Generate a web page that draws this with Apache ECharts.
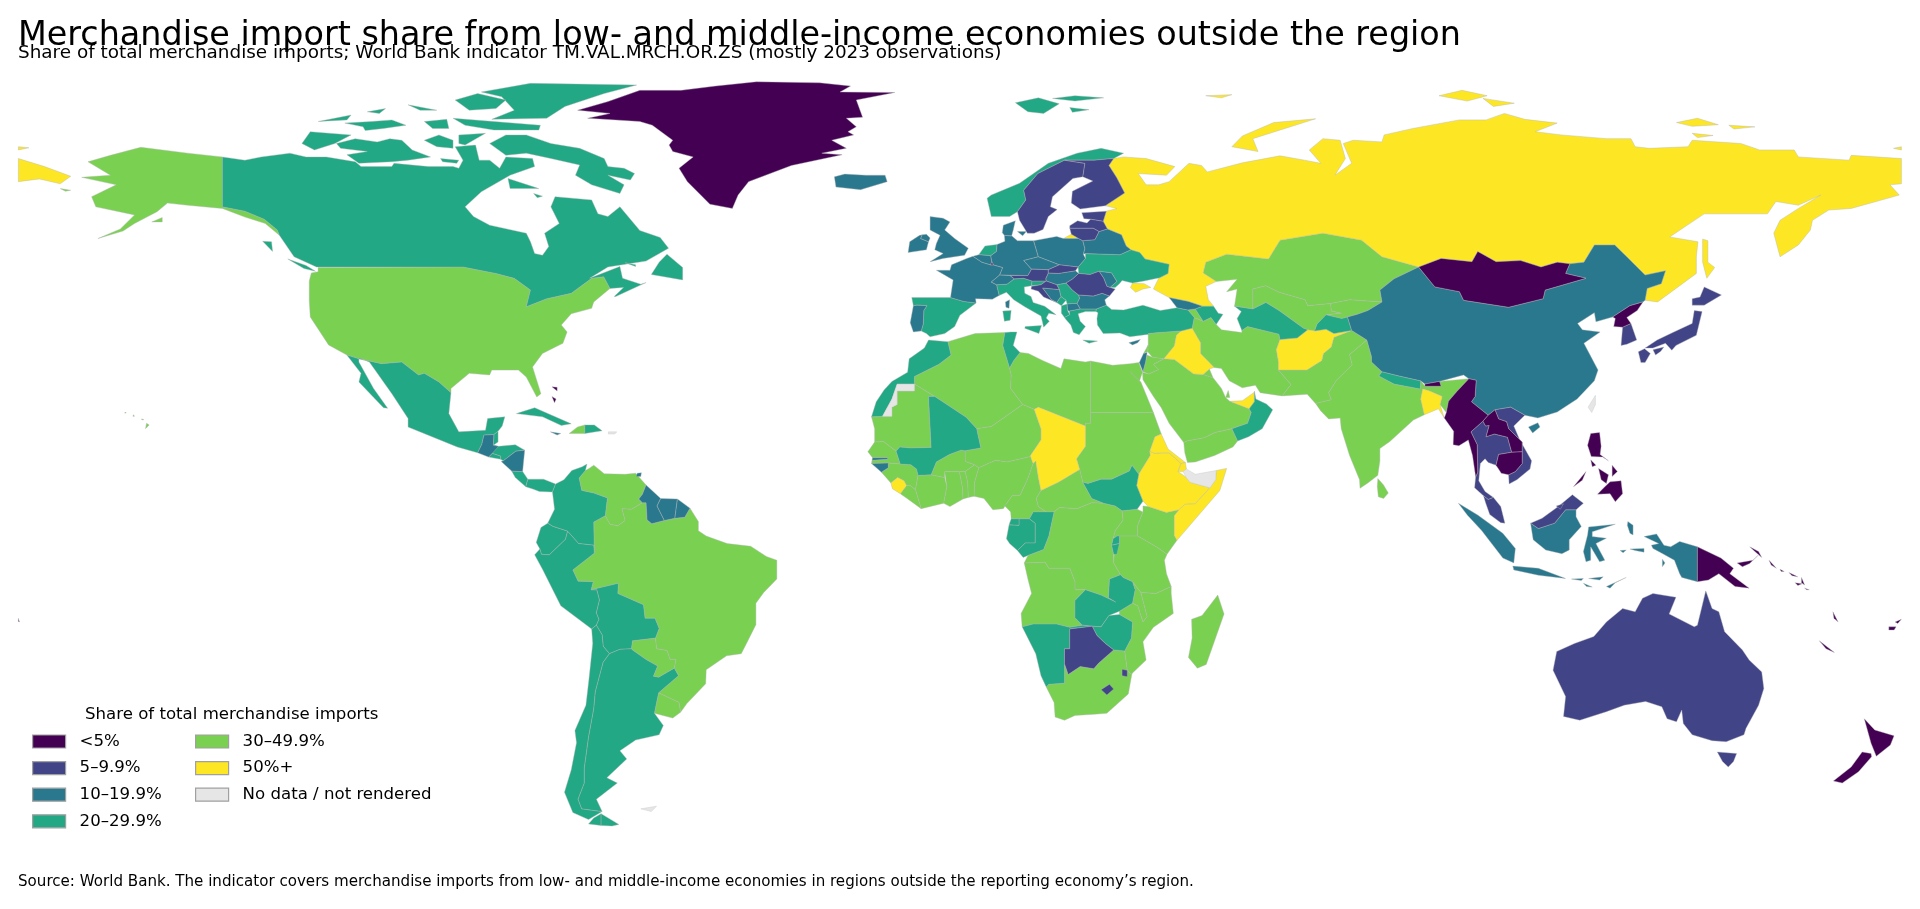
<!DOCTYPE html>
<html><head><meta charset="utf-8">
<style>html,body{margin:0;padding:0;background:#fff}#c{width:1920px;height:909px}</style>
<script src="https://cdn.jsdelivr.net/npm/echarts@6/dist/echarts.min.js"></script>
</head><body><div id="c"></div>
<script>
const titleText="Merchandise import share from low- and middle-income economies outside the region";
const subtitleText="Share of total merchandise imports; World Bank indicator TM.VAL.MRCH.OR.ZS (mostly 2023 observations)";
const legendTitle="Share of total merchandise imports";
const sourceText="Source: World Bank. The indicator covers merchandise imports from low- and middle-income economies in regions outside the reporting economy\u2019s region.";
const bandNames=["<5%","5\u20139.9%","10\u201319.9%","20\u201329.9%","30\u201349.9%","50%+","No data / not rendered"];
const bandColors=["#440154","#414487","#2a788e","#22a884","#7ad151","#fde725","#e6e6e6"];
const under5=["Greenland","Mongolia","North Korea","Bhutan","Myanmar","Laos","Cambodia","Philippines","Papua New Guinea","Solomon Islands","Vanuatu","New Caledonia","Fiji","New Zealand","Bahamas","Luxembourg"];
const from5to10=["Sweden","Finland","Estonia","Latvia","Lithuania","Austria","Slovakia","Romania","Croatia","South Korea","Japan","Thailand","Vietnam","Malaysia","Brunei","Australia","Botswana","Lesotho","Eswatini"];
const from10to20=["Iceland","Ireland","United Kingdom","France","Belgium","Germany","Denmark","Poland","Czechia","Switzerland","Hungary","Belarus","Portugal","Bosnia","Bulgaria","North Macedonia","Moldova","Georgia","Cyprus","Israel","China","Indonesia","Guatemala","Nicaragua","Jamaica","Guyana","Suriname","French Guiana","Trinidad","Gambia","Guinea-Bissau"];
const from20to30=["Canada","Mexico","Belize","El Salvador","Honduras","Costa Rica","Panama","Cuba","Dominican Republic","Colombia","Ecuador","Peru","Bolivia","Chile","Argentina","Norway","Netherlands","Spain","Italy","Slovenia","Ukraine","Serbia","Montenegro","Albania","Greece","Turkey","Azerbaijan","Morocco","Tunisia","Mali","Nepal","Turkmenistan","Tajikistan","Oman","South Sudan","Gabon","Congo","Equatorial Guinea","Rwanda","Burundi","Zambia","Zimbabwe","Namibia"];
const from30to50=["United States","Venezuela","Brazil","Paraguay","Uruguay","Haiti","Kazakhstan","Uzbekistan","Kyrgyzstan","Iran","Pakistan","India","Sri Lanka","Saudi Arabia","Syria","Jordan","Lebanon","Yemen","Kuwait","Qatar","Armenia","Algeria","Libya","Egypt","Sudan","Niger","Nigeria","Mauritania","Senegal","Guinea","Ivory Coast","Ghana","Togo","Benin","Liberia","Burkina Faso","Cameroon","Central African Republic","DR Congo","Uganda","Kenya","Tanzania","Angola","Malawi","Mozambique","South Africa","Madagascar"];
const over50=["Russia","Crimea","Chad","Ethiopia","Eritrea","Somalia","Djibouti","Iraq","Afghanistan","United Arab Emirates","Bangladesh","Sierra Leone"];
const noData=["Western Sahara","Somaliland","Taiwan","Puerto Rico","Falkland Islands"];
const bandMembers=[under5,from5to10,from10to20,from20to30,from30to50,over50,noData];

const outlines={
"Canada":[[-141,69.6,-136.7,69,-133.6,69.6,-128.1,70.3,-125,69.6,-121.1,69.6,-115.6,68.7,-114.5,67.8,-108.6,67.8,-108.2,68.4,-101.6,67.8,-96.9,67.8,-95.8,67.5,-95,69,-96.5,71.5,-92.6,71.8,-91.9,69,-89.9,69,-88,67.5,-86.8,69.6,-81.7,69.3,-81.3,67.8,-86,66.2,-91.5,63.1,-94.6,60.3,-93,58.5,-89.9,56.9,-82.9,55.4,-82.1,53.8,-81.3,51.6,-79.8,51.3,-78.6,52.9,-79.4,55.4,-76.6,57.2,-78.2,60.3,-77.4,62.2,-70.4,61.6,-69.2,59,-67.3,58.5,-65,60.3,-61.2,55.9,-57.3,54.6,-55.7,52.6,-60,50.2,-67.3,49.1,-70.8,47,-65,49.2,-64.5,47,-61,45.9,-60,46.2,-65.8,43.6,-66.1,43.6,-64.3,45.3,-66.9,45.1,-68.1,47.3,-70.4,47,-74.3,44.2,-79,43.2,-82.9,41.7,-82.1,44.8,-85.2,47,-88.7,47.9,-95,49.1,-123,49.1,-127.3,51,-130.1,55,-130.5,56,-133,58,-136.7,59.5,-141,60.3],
[-125.8,72.1,-124.2,74.3,-116.4,73.7,-119.5,72.1,-123.4,70.9],[-119.2,72.1,-115.6,73,-111.4,72.4,-109,73,-106.7,72.7,-104.7,70.9,-101.2,69.6,-105.5,69,-108.6,68.7,-114.9,68.4,-117.2,70,-113.3,70.6,-118.4,71.2],[-122.7,76.2,-116.4,77.4,-117.2,76.5],[-113.3,78,-109.8,78.6,-111,77.7],[-117.6,75.9,-112.5,76.2,-108.6,76.5,-105.9,75.5,-110.2,74.9,-113.7,74.5,-114.1,75.2],[-105.5,79.3,-100,78.3,-103.2,78.3],[-102.4,76.2,-98.1,76.6,-97.7,74.9,-100.8,74.9],[-96.9,76.8,-89.1,76.2,-80.2,75.5,-80.5,74.6,-89.1,74.6,-94.6,75.5],[-102.4,72.7,-99.6,73.7,-96.9,72.7,-96.9,71.2,-100,71.5],[-95.8,73.7,-90.7,74,-94.6,71.8,-95.8,72.1],[-99.3,69.3,-95.8,69,-96.2,68.4,-98.9,68.7],[-96.5,80.2,-92.2,81.4,-86.8,80.2,-88.7,78.6,-93.8,78.3],[-91.5,81.7,-82.1,83.3,-61.8,83,-68,81.4,-75.5,79,-79,76.8,-89.5,76.6,-85.2,78.3,-87.6,80.8],[-89.9,72.1,-86.8,73.7,-82.9,73.7,-78.2,72.1,-72.7,71.2,-68,69.3,-67.3,67.8,-64.2,67.5,-62.2,66.5,-63,65.3,-67.3,66.2,-64.2,64.4,-65,62.8,-70.4,64.4,-73.5,66.2,-72.7,68.1,-78.2,69.3,-82.9,70.3,-86.8,69.9],[-86.4,65.6,-86,63.7,-80.5,63.7,-83.6,64.7],[-59,47.7,-53,46.7,-53,49,-56,51.5,-57.5,50],[-128.5,50.6,-125,49.4,-123.2,48.3,-125.4,48.8],[-133.3,53.9,-131.6,53.8,-131.4,52],[-64,49.9,-62,49.5,-62,49.2],[-81.5,62.8,-79.8,62.3,-80.8,62]],
"United States":[[-122.7,49,-95,49.1,-88.7,47.9,-85.2,47,-82.1,44.8,-82.9,41.7,-79,43.2,-74.3,44.2,-70.4,47,-68.1,47.3,-66.9,45.1,-70,42.6,-70.4,41.4,-74.3,40.4,-76.2,38.3,-75.1,37,-75.9,34.9,-79.8,33,-81.7,30.5,-80.1,25.5,-80.9,24.9,-82.9,28.6,-84.4,29.9,-89.5,29.9,-89.9,29,-93.8,29.3,-97.3,26.5,-97.3,25.7,-99.6,27.7,-102.4,29.3,-103.5,29,-106.7,31.4,-110.6,31.1,-114.9,32,-117.2,32.7,-120.7,34.6,-124.2,39.8,-124.4,42.9,-124.4,46.5,-124,48,-122.7,48.2],
[-141,60.3,-141,69.6,-147.6,70.3,-156.6,71.4,-162.4,69.9,-166.7,68.7,-162.4,66.2,-167.9,65.8,-161.3,64.4,-166,62.2,-165.2,60.3,-157.8,58.8,-160.5,56.2,-164.8,54.4,-160,55.8,-157.8,57.2,-153.5,59.4,-151.5,61,-147.6,60.6,-141,60,-136.7,58.4,-132.8,57.2,-130.1,55,-130.5,56,-133,58,-136.7,59.5],[-154.5,57.5,-152.5,58.3,-152.5,57.5],[-155.5,20,-155,19.7,-155.7,19],[-156.5,20.8,-156,20.7,-156.3,20.6],[-158,21.6,-157.8,21.3,-158.1,21.3],[-159.5,22.1,-159.4,21.9,-159.7,21.9],[-172,63.7,-170,63.4,-171,63.2]],
"Mexico":[[-117.2,32.7,-114.9,32,-110.6,31.1,-106.7,31.4,-103.5,29,-102.4,29.3,-99.6,27.7,-97.3,25.7,-97.7,21.8,-95.8,18.4,-90.7,18.7,-90.3,20.9,-87,21.2,-87.5,19.5,-88.3,18.5,-89.1,17.9,-91,17.8,-91.4,16.1,-92.2,14.5,-96.1,15.6,-105.5,19.3,-105.5,20.9,-108.6,25.5,-112.9,31.4,-114.9,32.2,-114.9,31.4,-112.1,26.5,-109.4,22.8,-110.2,22.9,-114.9,27.7,-114.5,29.3]],
"Guatemala":[[-92.2,14.5,-91.4,16.1,-91,17.8,-89.1,17.9,-89.2,15.9,-88.2,15.7,-89.4,14.4,-90.1,13.7]],
"Belize":[[-89.1,17.9,-88.3,18.5,-88.3,16.5,-89.2,15.9]],
"El Salvador":[[-90.1,13.7,-89.4,14.4,-87.8,13.9,-87.8,13.3]],
"Honduras":[[-89.2,15.9,-88.2,15.7,-85,16,-83.2,15,-84.9,14.8,-87.3,13,-87.8,13.3,-87.8,13.9,-89.4,14.4]],
"Nicaragua":[[-83.2,15,-83.6,11,-85.7,11.1,-87.7,12.9,-87.3,13,-84.9,14.8]],
"Costa Rica":[[-85.7,11.1,-83.6,11,-82.6,9.6,-83,8.2,-85,9.9]],
"Panama":[[-82.6,9.6,-79.6,9.6,-77.3,8.7,-77.9,7.2,-80.4,7.3,-81.5,7.7,-83,8.2]],
"Cuba":[[-84.8,21.8,-81.3,22.9,-74.3,19.9,-76.2,19.6,-79.8,21.2]],
"Jamaica":[[-78.3,18.4,-76.3,18.1,-77,17.8]],
"Haiti":[[-74.7,18.1,-73.1,19.3,-71.7,19.7,-71.7,18.1]],
"Dominican Republic":[[-71.7,19.7,-69.9,19.7,-68.4,18.6,-71.7,18.1]],
"Puerto Rico":[[-67.2,18.4,-65.6,18.4,-66,18,-67.2,18]],
"Bahamas":[[-78,26.8,-77,26.7,-77,26],[-78,25,-77.5,23.8,-77.2,24.5]],
"Trinidad":[[-61.7,10.7,-60.9,10.8,-61,10.1,-61.9,10.1]],
"Colombia":[[-77.3,8.7,-75.7,9.5,-74.2,11.2,-72.2,11.9,-71.3,12.4,-71.6,11.2,-72.8,9.8,-72.3,7.5,-70,7,-67.4,6.1,-67.8,2.8,-70,1.6,-69.9,-4.2,-70,-2.7,-72.9,-2.4,-75,-0.1,-77.8,0.8,-78.8,1.4,-77.5,4,-77.9,7.2]],
"Venezuela":[[-71.6,11.2,-70.9,11.6,-70,12.2,-68,10.6,-64,10.5,-62,10.7,-60,8.5,-60.7,6.8,-61.4,5.9,-60.7,5.2,-62.8,4,-64.6,4.1,-64,1.9,-65.4,0.9,-66.9,1.2,-67.8,2.8,-67.4,6.1,-70,7,-72.3,7.5,-72.8,9.8]],
"Guyana":[[-60,8.5,-57.2,6,-57.9,4.6,-56.5,1.9,-58.9,1.3,-59.8,2,-60,5.2,-60.7,5.2,-61.4,5.9,-60.7,6.8]],
"Suriname":[[-57.2,6,-54,5.9,-54.5,2.3,-56.5,1.9,-57.9,4.6]],
"French Guiana":[[-54,5.9,-51.6,4.2,-52.6,2.5,-54.5,2.3]],
"Brazil":[[-60.7,5.2,-60,5.2,-59.8,2,-58.9,1.3,-56.5,1.9,-54.5,2.3,-52.6,2.5,-51.6,4.2,-50,1.7,-50,0,-48.5,-1,-44.5,-2.4,-40,-2.9,-37,-4.8,-35,-5.5,-35,-9,-37.5,-11.5,-39,-13.5,-39,-17.5,-40.8,-21,-41.8,-22.9,-44.6,-23.3,-48.5,-25.9,-48.6,-28.5,-52.2,-32.2,-53.4,-33.8,-53.7,-32,-57.6,-30.2,-53.8,-27,-54.6,-25.6,-54.3,-24,-55.4,-24,-56,-22.3,-58,-22,-58.2,-20,-57.5,-18.2,-58.3,-16.3,-60.2,-16.3,-60.5,-13.8,-65.4,-11.7,-65.3,-9.8,-70.5,-11,-70.1,-9.5,-73,-9.4,-74,-7.3,-69.9,-4.2,-70,1.6,-67.8,2.8,-66.9,1.2,-65.4,0.9,-64,1.9,-64.6,4.1,-62.8,4]],
"Ecuador":[[-75,-0.1,-77.8,0.8,-78.8,1.4,-80.1,0.6,-81,-2.2,-80.3,-3.4,-80,-4.4,-78.5,-4.5,-75.4,-1.6]],
"Peru":[[-75,-0.1,-75.4,-1.6,-78.5,-4.5,-80,-4.4,-80.3,-3.4,-81.3,-4.5,-79.8,-7.2,-76.3,-14,-70.4,-18.3,-69.5,-17.6,-69,-16.5,-69.5,-15.3,-68.9,-12.9,-69.4,-11,-70.5,-11,-70.1,-9.5,-73,-9.4,-74,-7.3,-69.9,-4.2,-70,-2.7,-72.9,-2.4]],
"Bolivia":[[-69.4,-11,-68.9,-12.9,-69.5,-15.3,-69,-16.5,-69.5,-17.6,-68.4,-19.4,-68.2,-21.5,-67,-22.9,-65,-22.1,-62.8,-22,-62.6,-20.5,-58.2,-20,-57.5,-18.2,-58.3,-16.3,-60.2,-16.3,-60.5,-13.8,-65.4,-11.7,-65.3,-9.8,-70.5,-11]],
"Chile":[[-70.4,-18.3,-69.5,-17.6,-68.4,-19.4,-68.2,-21.5,-67,-22.9,-68.2,-24.5,-69.7,-30,-70,-33.2,-71,-38.5,-71.8,-44.2,-71.8,-47,-73,-50,-72.3,-51.8,-68.4,-52.3,-71,-53.8,-74,-52.5,-75.6,-48.7,-74.3,-44.5,-73.3,-39.5,-73.6,-37.2,-71.5,-32.5,-70.9,-27.5,-70.2,-21],[-68.6,-52.7,-68.6,-54.9,-71,-54.6,-70,-53.5]],
"Argentina":[[-65,-22.1,-67,-22.9,-68.2,-24.5,-69.7,-30,-70,-33.2,-71,-38.5,-71.8,-44.2,-71.8,-47,-73,-50,-72.3,-51.8,-68.4,-52.3,-69.5,-50,-65.5,-47,-67.5,-46,-63.7,-42.5,-65,-41,-62,-39,-57.5,-38,-56.7,-36.3,-58.4,-34,-58.1,-32.5,-57.6,-30.2,-53.8,-27,-54.6,-25.6,-57.6,-27.3,-58.6,-27.1,-57.8,-25.2,-60,-24,-62.6,-22.2,-62.8,-22],[-68.6,-52.7,-65.2,-54.7,-66.5,-55,-68.6,-54.9]],
"Paraguay":[[-62.8,-22,-62.6,-20.5,-58.2,-20,-58,-22,-56,-22.3,-55.4,-24,-54.3,-24,-54.6,-25.6,-57.6,-27.3,-58.6,-27.1,-57.8,-25.2,-60,-24,-62.6,-22.2]],
"Uruguay":[[-57.6,-30.2,-53.7,-32,-53.4,-33.8,-54.9,-34.9,-58.4,-34,-58.1,-32.5]],
"Falkland Islands":[[-61,-51.8,-58,-51.3,-59,-52.3]],
"Greenland":[[-73.1,78.3,-67.3,79.9,-61.2,82,-53.3,82,-46.7,82.8,-38.9,83.6,-26.8,83.4,-20.9,82.8,-22.9,81.7,-12.4,81.6,-19.8,80.2,-18.6,77,-21.7,76.8,-19.8,75.2,-21.4,74.3,-20.3,73.7,-24.5,72.7,-21.7,71.2,-26.4,70.3,-22.5,70,-32.2,68,-40.4,65,-42.4,62.5,-43.5,60,-47.8,60.8,-52.1,65,-53.7,67.5,-51,69.6,-54.9,70.6,-55.6,71.8,-54.9,72.7,-58.8,75.5,-61.2,76.2,-71.2,76.8,-66.9,77.7]],
"Iceland":[[-24,65.9,-22,66.4,-18,66.2,-14.3,66.2,-13.9,65,-19,63.5,-23.7,64]],
"Ireland":[[-6,53.8,-6.4,52.3,-9.9,51.8,-9.6,53.8,-7.7,55,-7.2,55.1,-7.5,54.4]],
"United Kingdom":[[-5.7,58.5,-3.2,58.2,-1.9,57.5,-2.9,56,-1,54.4,1.6,52.6,.9,51.3,-3.2,50.7,-5.7,50.1,-3.2,51.6,-4.8,52.3,-4.5,53.5,-3.8,55,-5.7,56],[-6,53.8,-5.7,54.5,-6.4,55.2,-7.2,55.1,-7.5,54.4]],
"France":[[-1.8,43.4,-1.3,46.7,-4.5,48.5,-1.9,48.5,-1.6,49.5,1.3,50.7,2.5,51.1,4.2,50,5.9,49.5,6.4,49.5,8.2,49,7.6,47.6,6,46.3,7,45.8,7.5,43.8,6.2,43.1,3,43.2,3.1,42.4,0.7,42.7],[8.7,42.6,9.5,43,9.4,41.4,8.8,41.6]],
"Spain":[[-9.2,43.4,-1.8,43.4,0.7,42.7,3.1,42.4,0,40.1,-1,38,-2.9,36.7,-5.7,36.1,-6.4,36.7,-7.4,37.2,-7,38.5,-6.9,41,-6.3,41.9,-8.2,42,-8.9,41.9]],
"Portugal":[[-8.9,41.9,-8.2,42,-6.3,41.9,-6.9,41,-7,38.5,-7.4,37.2,-8.9,37,-9.5,38.7]],
"Belgium":[[2.5,51.1,3.6,51.4,5.9,51.2,6.1,50.1,5.9,49.5,4.2,50]],
"Netherlands":[[3.6,51.4,4.8,53,7.1,53.3,7,52,5.9,51.2]],
"Luxembourg":[[5.9,49.5,6.1,50.1,6.4,49.5]],
"Germany":[[7.1,53.3,8.6,53.9,8.5,55,9.9,54.9,11,54,14.1,54,14.7,52,15,51,12.2,50.3,13.7,48.7,13,47.5,7.6,47.6,8.2,49,6.4,49.5,6.1,50.1,5.9,51.2,7,52]],
"Switzerland":[[7.6,47.6,9.6,47.5,10.4,46.9,9,45.9,7,45.8,6,46.3]],
"Austria":[[9.6,47.5,13,47.5,13.7,48.7,16.9,48.6,16.9,48,16.4,46.9,16.5,46.5,13.8,46.5,12.2,47,10.4,46.9]],
"Italy":[[7,45.8,9,45.9,10.4,46.9,12.2,47,13.8,46.5,13.7,45.6,12.3,45.4,12.4,44.2,13.6,43.6,14,42.5,16.2,41.8,18.4,40.2,17,40.5,16.5,39.6,17.1,39,16,37.9,15.8,38.8,15.5,40,12.4,41.7,10.3,43,8.9,44.4,7.5,43.8],[12.5,38,15.6,38.2,15.1,36.7,12.4,37.7],[8.2,40.9,9.8,41,9.6,39.2,8.5,39]],
"Denmark":[[8.1,55.5,8.3,56.9,10.6,57.7,10.2,56,9.9,54.9,8.5,55],[11,55.7,12.7,55.7,12,54.9]],
"Norway":[[5.2,61.9,6,62.5,11.4,64.7,16.9,68.4,22.4,70.3,27,71.2,31.3,70.3,29.4,69.3,28.2,69.2,25.7,69,20,69,14.9,66.5,12.2,63.4,12.6,61.6,11,59.4,9.5,58.5,6,58.5],[10.6,79.7,15,80.6,19,79.5,16,77.7,13,78],[17.7,80.5,22,81,27.5,80.6,22,80],[21,78.8,24.7,78.4,21.5,77.9]],
"Sweden":[[11,59.4,12.6,61.6,12.2,63.4,14.9,66.5,20,69,23.9,68.4,23.5,65.9,21.6,65.6,17.7,62.2,17.3,60.3,18.6,59.8,16.9,58.5,15.9,56.1,14.2,55.4,12.9,55.4,11.4,57.8]],
"Finland":[[20,69,25.7,69,28.2,69.2,29.4,69.3,28.5,68,30,65.7,31.5,62.9,27.8,60.5,23,59.9,21.3,61,21.5,63.2,25.4,65.1,23.5,65.9,23.9,68.4]],
"Estonia":[[23.3,59.2,28,59.5,27.4,57.6,25,58,23.7,58.1]],
"Latvia":[[21,56.8,22.5,57.7,24.3,57.3,25,58,27.4,57.6,28.2,56.2,26.6,55.7,25.5,56.3,21,56.3]],
"Lithuania":[[21,56.3,25.5,56.3,26.6,55.7,25.8,54.2,23.5,54,22.7,54.4,21.3,55.2]],
"Poland":[[14.1,54,18.5,54.8,19.8,54.4,22.7,54.4,23.5,54,23.9,52.5,23.6,51.5,24,50.7,22.6,49.1,19,49.5,15,51,14.7,52]],
"Belarus":[[23.5,54,25.8,54.2,26.6,55.7,28.2,56.2,30.9,55.1,31.8,53,32.7,52.3,30.6,51.4,24,51.6,23.6,51.5,23.9,52.5]],
"Ukraine":[[24,51.6,30.6,51.4,32.7,52.3,34.4,51.8,35.4,50.6,40,49.6,39.8,47.9,38.2,47.1,35.2,46.5,33,46.1,31,46.6,30.5,46,29.7,45.3,28.7,45.3,30,46.4,29,48,26.6,48.3,24.9,47.7,22.7,47.9,22.6,49.1,24,50.7]],
"Crimea":[[33,46.1,35.2,46,36.5,45.3,35,45,33.6,44.4,32.6,45.3]],
"Moldova":[[26.6,48.3,29,48,30,46.4,28.7,45.3,28.1,45.5,27.5,47]],
"Romania":[[22.7,47.9,24.9,47.7,26.6,48.3,27.5,47,28.1,45.5,28.7,45.3,29.7,45,28.6,43.7,27.2,44.2,25.5,43.7,22.7,43.9,21.5,44.8,20.3,46.1,21.6,46.9]],
"Hungary":[[16.4,46.9,16.9,48,18.8,47.9,22.1,48.4,22.7,47.9,21.6,46.9,20.3,46.1,18.5,45.8,16.5,46.5]],
"Slovakia":[[16.9,48.6,19,49.5,22.6,49.1,22.1,48.4,18.8,47.9,16.9,48]],
"Czechia":[[12.2,50.3,15,51,19,49.5,16.9,48.6,13.7,48.7]],
"Slovenia":[[13.7,45.6,13.8,46.5,16.5,46.5,15.5,45.8]],
"Croatia":[[13.7,45.5,13.6,45,15,44.6,16,43.5,18.5,42.5,17.5,43,15.8,45.2,19,44.9,18.5,45.8,16.5,46.5,15.5,45.8]],
"Bosnia":[[15.8,45.2,19,44.9,19.3,43.6,18.5,42.5,17.5,43]],
"Serbia":[[18.5,45.8,19,44.9,19.3,43.6,20.3,42.9,20.5,42.2,21.5,42.3,22.4,42.3,22.9,43.3,22.7,43.9,21.5,44.8,20.3,46.1]],
"Montenegro":[[18.5,42.5,19.3,43.6,20.3,42.9,19.4,41.9]],
"Albania":[[19.4,41.9,20.5,42.2,20.6,41,21,40.2,20,39.7,19.4,40.5]],
"North Macedonia":[[20.5,42.2,21.5,42.3,22.4,42.3,23,41.3,20.9,40.9,20.6,41]],
"Bulgaria":[[22.7,43.9,22.9,43.3,22.4,42.3,23,41.3,26.1,41.3,28,42,27.7,43,28.6,43.7,27.2,44.2,25.5,43.7]],
"Greece":[[20,39.7,21,40.2,20.9,40.9,23,41.3,26.1,41.3,26,40.8,24,40.8,22.6,40.4,23,39,24,38,22.8,36.5,21.7,36.9,21.2,38.3,20.2,39.4],[23.5,35.5,26.3,35.3,24.7,34.9]],
"Turkey":[[26.1,41.3,28,42,29,41.2,31.3,41.1,35,42,38.3,41,41.5,41.5,43.6,41.1,44.8,39.7,44.4,37.7,42.3,37.2,38,36.9,36,36.7,36.2,36.6,32.5,36.1,30.6,36.8,27.4,36.7,26.3,38.3,26.2,39.5,26.4,40.6,26,40.8]],
"Cyprus":[[32.3,35,34.5,35.6,34,35,33,34.6]],
"Georgia":[[40,43.4,43.7,42.7,46.4,41.8,45,41.3,43.6,41.1,41.5,41.5]],
"Armenia":[[43.6,41.1,45,41.3,46.5,39,44.8,39.7]],
"Azerbaijan":[[45,41.3,46.4,41.8,48.5,41.8,49.4,40.5,50.3,40.3,49,38.4,48,39.7,46.5,39]],
"Russia":[[28,59.5,30,60,27.8,60.5,31.5,62.9,30,65.7,28.5,68,29.4,69.3,31.3,69.6,35.6,69.3,41.1,67.8,39.5,66.2,34.1,66.5,35.6,64.4,38,64.4,40,65,43.8,68.4,46.2,68,47.3,66.8,54,68.5,61.2,69.8,65.9,69,69,68.4,66.8,70.9,69.4,73,72.7,72.7,73.7,69.3,71.7,66.2,74.9,68.4,73.3,72.1,75.2,72.7,80.7,72.4,81.1,73.7,86.6,74.9,95.5,76.5,100.6,76.5,104.1,77.7,108,76.6,114.2,75.9,110,74.3,115,73.7,123.6,73,128.3,73,129.1,71.5,131.8,71.2,139.2,71.5,140,72.7,149.3,72.1,152.9,70.9,159.5,70.9,160.3,69.6,170,69,170.4,69.9,180,69.3,180,64.6,177.8,64.4,179.6,62.5,170.4,60,166.1,59.7,163,57.8,162.6,56,160.3,53.2,156.8,51,155.6,55.4,156.8,57.8,160.3,60,164.6,62.5,160.3,60.6,156,61.3,154.4,59,142.3,59,135.7,54.7,141.1,53.8,140.8,51,140.8,47.9,133.4,42.6,131,42.9,131.4,45.1,134.1,46,134.9,48.4,131,47.6,127.5,51,125.2,53.2,121.3,53.2,119.3,50,116.6,49.7,114.2,50,111.1,49.1,107.2,50.3,102.5,50.1,99,52,97.9,50.1,92,50.7,87.7,49.1,80.7,51,76.8,54.1,69.4,55.4,61.2,54.1,59,50.6,51,51.5,47,50,46.5,48,49,46.4,47,45.5,47.5,43,48.5,41.8,46.4,41.8,43.7,42.7,40,43.4,37,45,38,47,39.8,47.9,40,49.6,35.4,50.6,34.4,51.8,32.7,52.3,31.8,53,30.9,55.1,28.2,56.2,27.4,57.6],
[-180,69.3,-175,67.8,-170,66,-172,64.6,-176,65.5,-180,65],[-180,71.5,-178,71.3,-180,70.9],[178.5,71.2,180,71.5,180,70.9],[19.8,54.4,22.7,54.4,21.3,55.2],[52,71.5,57,70.6,56,73,68,76.7,60,76,54,73.5],[91.6,81,96,82,100.8,81,97,80],[100,80.5,106,79.6,102,79],[137,76,141,76.8,145,75.6,140,75.3],[147,75.5,152,75.2,148,74.8],[140,74,144,73.6,141,73.2],[142,54.3,143,54,143,50,144.3,49,142.8,47,142,50],[47,81,52,81.2,50,80.6]],
"Kazakhstan":[[46.5,48,47,50,51,51.5,59,50.6,61.2,54.1,69.4,55.4,76.8,54.1,80.7,51,87.7,49.1,83,46.9,80.3,44.8,80.7,42.6,74.5,43,70.9,42.3,66.5,41.9,66,43,61,44.4,58.5,45.6,56,45,56,41.3,52.5,41.8,53,45,51,44.5,53,46.8,49,46.4]],
"Uzbekistan":[[56,41.3,56,45,58.5,45.6,61,44.4,66,43,66.5,41.9,70.9,42.3,71,40.9,73,40.5,70,40.2,68.3,38.5,67.8,37.2,66.5,37.4,65.7,37.7,61,41,58.5,42.5]],
"Turkmenistan":[[52.5,41.8,56,41.3,58.5,42.5,61,41,65.7,37.7,66.5,37.4,64.5,35.9,61.2,35.6,61,36.6,55,38,53.9,37.3,53,39.5,53.8,40.8]],
"Kyrgyzstan":[[70.9,42.3,74.5,43,80.7,42.6,78,41,76,40.3,74.1,39.8,73,39.5,70,40.2,73,40.5,71,40.9]],
"Tajikistan":[[67.8,37.2,68.3,38.5,70,40.2,73,39.5,74.1,39.8,74.9,37.3,71.5,36.7,70,37.5]],
"Afghanistan":[[61.2,35.6,64.5,35.9,66.5,37.4,67.8,37.2,70,37.5,71.5,36.7,74.9,37.3,71.5,36,71,34.2,69.5,33,69.2,31.7,66.3,29.9,60.9,29.9,60.9,31.5,60.5,33.7]],
"Pakistan":[[60.9,29.9,66.3,29.9,69.2,31.7,69.5,33,71,34.2,71.5,36,74.9,37.3,77.8,35.5,74.5,32.8,75,30.9,72,28,70.5,25.7,71,24.4,68,23.7,66.4,25.4,61.6,25.1,63.3,27.2]],
"Iran":[[44.8,39.7,46.5,39,48,39.7,49,38.4,50,37.4,53.9,36.9,53.9,37.3,55,38,61,36.6,61.2,35.6,60.5,33.7,60.9,31.5,60.9,29.9,63.3,27.2,61.6,25.1,57.4,25.7,56.5,27.1,54,26.6,51.5,27.9,50,30.2,48.6,30.4,46,33,46,35,44.4,37.7]],
"Iraq":[[42.3,37.2,44.4,37.7,46,35,46,33,48.6,30.4,47.7,30.1,46.5,29.1,44.7,29.2,41,31.9,39,32,41,34.4,41.4,36.4]],
"Syria":[[36,36.7,38,36.9,42.3,37.2,41.4,36.4,41,34.4,39,32,36.8,32.3,35.9,33.3,36,34.6]],
"Lebanon":[[35.1,33,35.9,33.3,36,34.6,35.9,34.5]],
"Israel":[[34.3,31.3,35.1,33,35.8,33.2,35.5,31.4,35,29.6]],
"Jordan":[[35,29.6,35.5,31.4,35.8,32.7,36.8,32.3,39,32,37,31,38,30,36.1,29.2]],
"Saudi Arabia":[[36.1,29.2,38,30,37,31,39,32,41,31.9,44.7,29.2,46.5,29.1,48.4,28.5,50,26.5,50.8,24.8,51.6,24.1,55.3,22.7,55.7,22,55,20,52,19,48.8,18.3,46.7,17.3,43.4,16.7,42.8,16.4,40,20,38.5,22.9,37,25,35,28.1,34.9,29.5]],
"Yemen":[[42.8,16.4,43.4,16.7,46.7,17.3,48.8,18.3,52,19,53.1,16.7,52.2,15.6,48.7,14,45,12.8,43.5,12.7,43,14.5]],
"Oman":[[55,20,55.7,22,55.3,22.7,56.3,24,56.3,26,56.6,24.5,58.6,23.6,59.8,22.5,57.8,19,55.2,17.5,53.1,16.7,52,19]],
"United Arab Emirates":[[51.6,24.1,54,24.2,56.3,25.8,56.3,24,55.3,22.7]],
"Qatar":[[50.8,24.8,51.3,26.1,51.6,24.8]],
"Kuwait":[[46.5,29.1,47.7,30.1,48.4,28.5]],
"India":[[68,23.7,71,24.4,70.5,25.7,72,28,75,30.9,74.5,32.8,77.8,35.5,78.7,32.4,78.7,31.4,80.7,29.6,80.1,28.8,83,27.3,88,26.4,88.1,27.9,88.9,26.9,92,26.9,91.7,27.8,97.3,28.3,95,25.9,93.4,24.1,93,22,91.8,23.5,92.2,25,89.8,26,88.5,26.4,88.1,24.5,88.8,21.6,86.7,20.6,82.2,16.6,80.3,15.3,80.3,13,79.9,10.3,78,8.9,76.5,7.9,76.4,9.5,74.5,14,72.9,19,72.7,21,70.5,20.8,69,22.3]],
"Bangladesh":[[88.1,24.5,88.5,26.4,89.8,26,92.2,25,91.8,23.5,92.6,21,91.5,22.7,88.8,21.6]],
"Nepal":[[80.1,28.8,80.7,29.6,84,28.8,88.1,27.9,88,26.4,83,27.3]],
"Bhutan":[[88.9,27.3,91.7,27.8,92,26.9,88.9,26.9]],
"Sri Lanka":[[79.9,9.7,81,8.5,81.9,7,81,6,80,6.3,79.8,8.2]],
"Myanmar":[[92.6,21,93,22,93.4,24.1,95,25.9,97.3,28.3,98.7,28,98.5,25,97.8,24,101,21.5,100,20.4,97.7,18.4,98.9,16,99,10.9,98.6,10,98,14,97.2,16.9,95.4,15.8,94.3,16,94.4,18.5]],
"China":[[74.1,39.8,76,40.3,78,41,80.7,42.6,80.3,44.8,83,46.9,87.7,49.1,90.8,45.4,95.5,44.5,96.3,42.9,104.9,41.6,111.5,43.2,111.9,44.8,119.7,47,115.8,47.9,116.6,49.7,119.3,50,121.3,53.2,125.2,53.2,127.5,51,131,47.6,134.9,48.4,134.1,46,131.4,45.1,131,42.9,130.6,42.6,128.1,41.9,124.8,39.8,121.6,38.9,121.3,40.6,118.1,38.6,119,37.4,122.4,37,119.3,34.9,122,29.9,121.3,27.9,118,24.5,114.2,22.1,110.5,21,108,21.5,105.3,23,102.3,22.5,101,21.5,97.8,24,98.5,25,98.7,28,97.3,28.3,96.3,29,91.7,27.8,88.9,27.3,88.1,27.9,84,28.8,80.7,29.6,78.7,31.4,78.7,32.4,77.8,35.5,74.9,37.3],[108.7,19.3,110.5,20.1,110.9,19.3,109.5,18.2]],
"Mongolia":[[87.7,49.1,92,50.7,97.9,50.1,99,52,102.5,50.1,107.2,50.3,111.1,49.1,114.2,50,116.6,49.7,115.8,47.9,119.7,47,111.9,44.8,111.5,43.2,104.9,41.6,96.3,42.9,95.5,44.5,90.8,45.4]],
"Taiwan":[[121.5,25.2,120.1,23,120.8,22,121.5,23.5]],
"North Korea":[[124.8,39.8,128.1,41.9,130.6,42.6,129.5,41,127.5,39.7,128.3,38.6,126.7,37.9,125,38,125.3,39.5]],
"South Korea":[[126.7,37.9,128.3,38.6,129.4,35.5,127.5,34.7,126.4,34.5,126.6,36.7]],
"Japan":[[140.4,41,141.9,40.8,140.8,36.4,136.9,34.5,136.1,33.6,134.9,34.9,132.5,34,131,34,133.3,35.5,136.5,37,140,38.6],[142.3,45.4,145.6,43.9,142.3,42,140,42,140,43.2,141.5,43.5],[130.9,33.9,132,33,131,31.3,130.2,31.3,129.7,33.3],[132.5,33.7,134.6,34.2,134,33.4,133,32.7]],
"Thailand":[[100,20.4,100.5,19.5,101.2,19.6,100.6,17.5,102.2,18,104.7,17.4,105.5,14.6,103,14.2,102.5,12.2,101,12.7,100.4,13.4,99.5,12.5,99.2,9.3,100.4,7.3,102,6.2,101,5.8,100.1,6.5,98.4,8,98.6,10,99,10.9,98.9,16,97.7,18.4]],
"Laos":[[100.5,19.5,100,20.4,101,21.5,102.3,22.5,103,20.8,104.5,20.3,104.9,19,107.5,16.5,107.5,14.7,105.5,14.6,104.7,17.4,102.2,18,100.6,17.5,101.2,19.6]],
"Vietnam":[[102.3,22.5,105.3,23,108,21.5,105.9,19.5,107,17,109.3,13,109,11.5,106.5,9.5,105,8.7,104.9,10.4,106.2,11,107.5,12.5,107.5,14.7,107.5,16.5,104.9,19,104.5,20.3,103,20.8]],
"Cambodia":[[102.5,12.2,103,14.2,105.5,14.6,107.5,14.7,107.5,12.5,106.2,11,104.9,10.4,103.5,10.7]],
"Malaysia":[[100.1,6.5,101,5.8,102,6.2,103.4,4.5,104.2,1.4,103.4,1.5,101.3,3,100.5,5.2],[109.1,1.4,110.6,.4,113.7,1.4,115.8,3.9,117.8,3.9,119.2,5.1,117.1,6.7,114.4,4.5,111.3,2.3]],
"Brunei":[[114,4.6,115.4,5,114.8,4]],
"Indonesia":[[109.1,1.4,109.6,-1.7,112,-3.6,115.1,-4.3,116.5,-3.6,116.5,-1.7,118.8,.8,117.8,2.6,117.8,3.9,115.8,3.9,113.7,1.4,110.6,.4],[95.3,5.1,99,2.9,103.8,-.5,106.2,-3.3,105.9,-6,103.8,-5.1,99.7,.1,97,2.9],[105.7,-6.6,110.6,-7,115.8,-8.9,110.6,-8.3,105.9,-7.3],[120.2,.7,125.3,1.2,120.9,-.2,120.9,-1.1,123.6,-1.4,121.6,-2.4,123.3,-5.5,122.3,-5.8,120.6,-3,120.6,-5.5,119.7,-5.8,119.2,-3.9,120,-.8],[127.7,1.7,128.7,1,128.7,-.8,128.1,-.5,127.6,1],[116.9,-9,119.2,-8.9,118.8,-9.3],[120.2,-8.9,123,-8.6,122.3,-9.2],[119.2,-9.8,120.9,-10.5,119.8,-10.4],[123.6,-10.4,127.4,-8.7,125.3,-9.7,124.3,-10.7],[128.1,-3.4,130.8,-3.3,130.8,-4,129.1,-3.7],[126.2,-3.7,127.4,-3.6,126.8,-4.1],[130.8,-1.1,133.2,-.6,134.6,-2.7,135.9,-3,137.6,-2,141,-3,141,-9.5,138,-8.7,137.6,-8,136.6,-5.5,134.2,-4.2,132.5,-3.3,132.2,-2.7,133.6,-2.4],[134.3,-5.3,134.8,-6,134.3,-6.7]],
"Papua New Guinea":[[141,-3,145.5,-5.1,147.9,-7,147.2,-8,150.9,-10.7,148.2,-10.4,145.1,-8,143.1,-9.2,141,-9.5],[148.6,-6,151.6,-5.5,152.7,-4.5,151,-6.1,149.6,-6.7],[151,-3,152.7,-3.9,153.3,-5,152,-3.9]],
"Solomon Islands":[[154.7,-5.5,156.1,-7,155.1,-6.4],[156.8,-7.2,157.6,-7.6,157,-7.6],[158.5,-7.8,160.2,-8.6,159.1,-8.4],[160.9,-8.7,161.5,-10.1,160.9,-9.7],[159.7,-9.7,161,-9.9,160.2,-10.2],[161.5,-10.7,162.4,-11,161.9,-11]],
"Vanuatu":[[166.9,-15.1,167.9,-17,167.1,-16.3]],
"New Caledonia":[[164.3,-20.5,167.2,-22.7,165.6,-22]],
"Fiji":[[177.6,-17.9,179,-17.9,178.6,-18.5,177.6,-18.5],[178.8,-17,180,-16.5,179.3,-17.3],[-180,-16.3,-179.8,-17,-180,-16.9]],
"Philippines":[[120.6,18.1,122.3,18.3,122.6,15.7,122.4,14.2,124,13,122.9,13.7,120.7,13.8,120,15.9],[124.3,9.1,126.4,9.3,126.7,6.9,125.3,5.4,124.3,6.9,121.9,6.8,123,7.9],[117.3,8.2,119.7,11,119,9.4],[124.7,12.2,125.7,11,124.7,10.1],[122.1,11.6,124,10.4,123.6,8.8,122.6,9.5],[120.6,13.2,121.6,12.2,120.9,11.9]],
"Australia":[[142.6,-11.2,143.8,-14.5,145.1,-15.1,146.2,-18.8,149.6,-22.2,150.9,-24.1,153.3,-26.3,153.7,-29.4,152.7,-32.5,150.3,-36.8,149.9,-38,146.5,-39.3,143.8,-39.1,140,-38,138.3,-35.9,138,-33.4,137,-35.6,135.2,-35,134.2,-32.8,131.1,-31.8,127,-32.5,123.6,-33.7,118.5,-35.3,115.4,-34.6,115.8,-30.9,113.4,-26,114.1,-22.5,117.5,-21,121.2,-19.7,123.6,-17,126.7,-14.5,129.1,-15.1,130.5,-12.6,132.5,-11.7,136.9,-12.4,135.6,-15.5,140.4,-17.9,141,-17.6],[144.8,-41.2,148.5,-41.5,147.9,-43,146.9,-44,145.8,-43]],
"New Zealand":[[172.9,-35,174.9,-37.1,178.6,-38.2,177.9,-39.9,175.2,-42,174.2,-39.6],[174.2,-41.5,172.5,-41.2,170.4,-44,167,-46.6,168.7,-47,171.8,-44.9,174.3,-42.1]],
"Morocco":[[-6,35.5,-2.3,35.2,-1.7,32.7,-4,31,-8.7,28.7,-8.7,27.3,-12,27.3,-13,24.5,-14.8,21.3,-16.9,21.2,-16,24,-14.5,26.2,-13,27.8,-10,29.5,-9.7,32,-6.8,34]],
"Western Sahara":[[-8.7,27.3,-12,27.3,-13,24.5,-14.8,21.3,-13,21.3,-13,23,-12,23.5,-12,26,-8.7,26]],
"Algeria":[[-2.3,35.2,2.9,36.7,8.6,36.9,8.2,34.5,9.5,30.3,9.8,29,9.7,26.5,12,23.5,6,19.4,3.2,19,1.2,21.1,-4.8,25,-8.7,27.3,-8.7,28.7,-4,31,-1.7,32.7]],
"Tunisia":[[8.6,36.9,9.7,37,10.9,37,10.2,34.5,11.5,33.2,10.3,31.7,9.5,30.3,8.2,34.5]],
"Libya":[[11.5,33.2,13.1,33,15.8,31.7,19.3,30.2,19.9,32,24,31.4,25,31.6,25,20,24,20,24,19.5,15,23,14.2,22.6,12,23.5,9.7,26.5,9.8,29,9.5,30.3,10.3,31.7]],
"Egypt":[[25,31.6,29.2,30.8,32.6,31.1,34.2,31.3,34.9,29.5,34.3,27.8,33,29,32.6,29.6,34.6,27.7,37,22,25,22]],
"Sudan":[[25,22,37,22,38.5,18,37.3,17.5,36.3,14.8,36.4,14,34.2,10.5,32.9,12.2,32.4,11.1,29,9.6,27,9.6,24.5,8.8,23.5,9,22.9,11.4,22.3,13.4,24,15.7,24,20,25,20]],
"South Sudan":[[24.5,8.8,27,9.6,29,9.6,32.4,11.1,32.9,12.2,34.2,10.5,33.8,8.4,35,5.5,33.9,4,31,3.7,29.7,4.6,27.5,5.1,25.2,6,23.5,9]],
"Ethiopia":[[36.4,14,36.3,14.8,37.3,14.4,38.5,14.5,40,14.5,42.3,12.5,41.7,11,43.2,10,44,9,47.8,8,45,5,43,4.9,41.9,3.9,39.5,3.4,36,4.5,35,5.5,33.8,8.4,34.2,10.5]],
"Eritrea":[[38.5,18,39.8,15.2,43.1,12.7,42.3,12.5,40,14.5,38.5,14.5,37.3,14.4,36.3,14.8,37.3,17.5]],
"Djibouti":[[42.3,12.5,43.1,12.7,43.3,11.5,42.7,11,41.7,11]],
"Somaliland":[[42.7,11,43.3,11.5,45,10.5,49,11.2,48.9,9.5,47.8,8,44,9,43.2,10]],
"Somalia":[[49,11.2,51,11.6,49.7,7.5,41.5,-1.8,41,-0.9,41,2.8,41.9,3.9,43,4.9,45,5,47.8,8,48.9,9.5]],
"Kenya":[[41.5,-1.8,39.6,-4.4,37.7,-3.1,34,-1,34,1,35,3.5,35,4.6,36,4.5,39.5,3.4,41.9,3.9,41,2.8,41,-0.9]],
"Uganda":[[30.5,-1,34,-1,34,1,35,3.5,33.9,4,31,3.7,31.2,2,29.7,0,29.3,-1.5,30,-1]],
"Tanzania":[[30.5,-1,34,-1,37.7,-3.1,39.6,-4.4,39.1,-5.5,39.5,-8,40.4,-10.4,37.5,-11.7,34.6,-11.5,33,-9.5,31.2,-8.7,30.7,-8.2,29.4,-6,29.5,-4.4,30.5,-2.4]],
"Rwanda":[[29.3,-1.5,30,-1,30.5,-1,30.5,-2.4,29,-2.7]],
"Burundi":[[29,-2.7,30.5,-2.4,30,-4.4,29.4,-4.4]],
"DR Congo":[[12.3,-6,13,-4.6,16,-3.5,17,-1,18,3.5,19,4.3,22.4,4.1,25.2,5.2,27.5,5.1,29.7,4.6,31,3.7,31.2,2,29.7,0,29.3,-1.5,29,-2.7,29.4,-4.4,29.4,-6,30.7,-8.2,28.6,-9,28.4,-12.5,29.8,-13.3,27,-12,24,-11,22,-11,22,-9.5,21,-7,17,-7,16.3,-5.9]],
"Gabon":[[8.9,-1.5,9.4,1.1,11.3,1,11.3,2.2,13.3,2.2,14.4,1.4,14.4,-2.3,12.5,-2.3,11,-3.7,9.5,-2.4]],
"Equatorial Guinea":[[9.4,1.1,9.8,2.2,11.3,2.2,11.3,1]],
"Congo":[[11,-3.7,12.5,-2.3,14.4,-2.3,14.4,1.4,13.3,2.2,14,3.5,16.5,3.5,18,3.5,17,-1,16,-3.5,13,-4.6,12.1,-5]],
"Cameroon":[[8.5,4.7,9.7,3.5,9.8,2.2,11.3,2.2,13.3,2.2,14,3.5,16.5,3.5,15,4.5,14.6,6,15.5,7.5,15,9.9,14.5,13,14,12.5,13,9.7,11.5,6.6,10,6.5,8.9,5]],
"Central African Republic":[[14.6,6,15,4.5,16.5,3.5,18,3.5,19,4.3,22.4,4.1,25.2,5.2,27.5,5.1,25.2,6,23.5,9,22.9,11.4,18.8,9,15.5,7.5]],
"Chad":[[14.5,13,15,9.9,15.5,7.5,18.8,9,22.9,11.4,22.3,13.4,24,15.7,24,19.5,15,23,14.2,22.6,15.5,19,15.5,16.9,13.5,14,13.5,13.8,14,12.5]],
"Niger":[[3.2,19,6,19.4,12,23.5,14.2,22.6,15.5,19,15.5,16.9,13.5,14,13.5,13.8,9,12.8,6.8,13.1,3.6,11.7,2.8,12.3,1,12.9,1,14.9,4,15.4]],
"Nigeria":[[2.7,6.4,4.6,6,6.3,3.9,8.3,4.1,8.9,5,10,6.5,11.5,6.6,13,9.7,14,12.5,13.5,13.8,9,12.8,6.8,13.1,3.6,11.7,2.8,9]],
"Benin":[[1.6,6.2,2.7,6.4,2.8,9,3.6,11.7,2.8,12.3,1,11,1.5,9]],
"Togo":[[.6,5.9,1.6,6.2,1.5,9,1,11,-0.1,11,0.5,8]],
"Ghana":[[-3.1,5.1,-1.9,4.5,.6,5.9,0.5,8,-0.1,11,-2.9,11,-2.5,8.2]],
"Burkina Faso":[[-5.5,10.4,-2.9,9.9,-2.9,11,-0.1,11,1,11,2.8,12.3,1,12.9,1,14.9,0.2,15,-2,14.2,-4.5,12.8]],
"Ivory Coast":[[-7.4,4.1,-3.1,5.1,-2.5,8.2,-2.9,9.9,-5.5,10.4,-8,10.3,-8.5,7.6]],
"Liberia":[[-11.4,6.9,-10.1,6,-7.4,4.1,-8.5,7.6,-9.5,8.4,-10.2,8.4]],
"Sierra Leone":[[-13.2,8.9,-12.9,7.8,-11.4,6.9,-10.2,8.4,-10.7,9.3,-11.9,9.9]],
"Guinea":[[-15,10.9,-13.2,8.9,-11.9,9.9,-10.7,9.3,-10.2,8.4,-9.5,8.4,-8.5,7.6,-8,10.3,-8.3,11.5,-9.4,12.3,-11.4,12.4,-13.7,12.6,-13.7,11.7]],
"Guinea-Bissau":[[-16.9,12.5,-13.7,12.6,-13.7,11.7,-15,10.9]],
"Senegal":[[-17.6,14.7,-16.3,16.5,-14.6,16.6,-12.2,14.8,-11.4,12.4,-13.7,12.6,-16.9,12.5,-16.8,13.1,-13.8,13.3,-13.8,13.6,-16.7,13.6]],
"Gambia":[[-16.8,13.1,-13.8,13.3,-13.8,13.6,-16.7,13.6]],
"Mauritania":[[-16.9,21.2,-14.8,21.3,-13,21.3,-13,23,-12,23.5,-12,26,-8.7,26,-8.7,27.3,-4.8,25,-6,25,-5.5,15.5,-9.5,15.4,-11.5,15.6,-12.2,14.8,-14.6,16.6,-16.3,16.5,-16.3,19]],
"Mali":[[-6,25,-4.8,25,1.2,21.1,3.2,19,4,15.4,1,14.9,0.2,15,-2,14.2,-4.5,12.8,-5.5,10.4,-8,10.3,-8.3,11.5,-9.4,12.3,-11.4,12.4,-12.2,14.8,-11.5,15.6,-9.5,15.4,-5.5,15.5]],
"Angola":[[12.3,-6,16.3,-5.9,17,-7,21,-7,22,-9.5,22,-11,24,-11,22,-13,22,-16.2,23.4,-17.6,21,-18,18.5,-17.4,14,-17.4,11.9,-17.9,11.7,-15.4,13.7,-11.7,13,-9]],
"Zambia":[[22,-13,24,-11,27,-12,29.8,-13.3,28.4,-12.5,28.6,-9,30.7,-8.2,31.2,-8.7,33,-9.5,33.5,-11,33,-13.5,30.5,-15,28.5,-15.8,27,-17.9,25.3,-17.8,23.4,-17.6,22,-16.2]],
"Zimbabwe":[[25.3,-17.8,27,-17.9,28.5,-15.8,30.5,-15.6,33,-17,32.8,-20,31.5,-22.4,29.4,-22.2,27.8,-21,26.2,-19.5]],
"Malawi":[[33,-9.5,34.6,-11.5,35.8,-16,35,-17,34,-14,33,-13.5,33.5,-11]],
"Mozambique":[[30.5,-15,33,-13.5,34,-14,35,-17,35.8,-16,34.6,-11.5,37.5,-11.7,40.4,-10.4,40.4,-11.7,40.8,-15.4,37,-18,35,-20.7,35.6,-24.1,32.9,-26.6,32.8,-26.8,32,-26,31.5,-22.4,32.8,-20,33,-17,30.5,-15.6]],
"Namibia":[[11.9,-17.9,14,-17.4,18.5,-17.4,21,-18,23.4,-17.6,25.3,-17.8,21,-18.3,21,-22,20,-22,20,-28.4,17,-28.6,16.5,-29.1,15.5,-27,14.5,-22.9]],
"Botswana":[[20,-22,21,-22,21,-18.3,25.3,-17.8,26.2,-19.5,27.8,-21,29.4,-22.2,26.5,-24.7,25.6,-25.7,23,-25.3,20.7,-26.8,20,-24.8]],
"South Africa":[[16.5,-29.1,17,-28.6,20,-28.4,20,-24.8,20.7,-26.8,23,-25.3,25.6,-25.7,26.5,-24.7,29.4,-22.2,31.5,-22.4,32,-26,32.8,-26.8,32.9,-26.6,32.2,-30.4,28.1,-34,25.6,-34.2,22,-34.4,20,-35.3,18.2,-34.7,18,-32]],
"Lesotho":[[27,-29.6,28.6,-28.6,29.4,-29.5,28.1,-30.6]],
"Eswatini":[[31,-25.8,32,-26,32,-27.2,31,-27]],
"Madagascar":[[49.3,-12,50.5,-15.5,47.1,-24.9,45.4,-25.6,43.7,-23.6,44.4,-20,44.3,-16.5,46.3,-15.8]]
};

function toFeature(name){
  const polys=outlines[name].map(flat=>{
    const ring=[];
    for(let i=0;i<flat.length;i+=2) ring.push([flat[i],flat[i+1]]);
    ring.push(ring[0].slice());
    return [ring];
  });
  return {type:"Feature",properties:{name},geometry:{type:"MultiPolygon",coordinates:polys}};
}
bandMembers.forEach((members,i)=>{
  echarts.registerMap("band"+i,{type:"FeatureCollection",features:members.map(toFeature)});
});
const drawOrder=[4,5,3,2,1,0,6];
const chart=echarts.init(document.getElementById("c"),null,{renderer:"canvas"});
const FONT="DejaVu Sans";
const legendBase={orient:"vertical",top:733,padding:0,itemWidth:33,itemHeight:13,itemGap:9.6,icon:"rect",selectedMode:false,itemStyle:{borderColor:"#a0a0a0",borderWidth:1.2},textStyle:{fontFamily:FONT,fontSize:16.6,lineHeight:13,color:"#000",padding:[0,0,0,9]}};
chart.setOption({
  animation:false,
  backgroundColor:"#fff",
  title:[
    {text:titleText,left:18,top:20,padding:0,textStyle:{fontFamily:FONT,fontSize:33.4,fontWeight:"normal",color:"#000"}},
    {text:subtitleText,left:18,top:44,padding:0,textStyle:{fontFamily:FONT,fontSize:18.4,fontWeight:"normal",color:"#000"}},
    {text:legendTitle,left:85,top:706,padding:0,textStyle:{fontFamily:FONT,fontSize:16.6,fontWeight:"normal",color:"#000"}},
    {text:sourceText,left:18,top:875,padding:0,textStyle:{fontFamily:FONT,fontSize:15.1,fontWeight:"normal",color:"#000"}}
  ],
  legend:[
    Object.assign({},legendBase,{data:bandNames.slice(0,4),left:32}),
    Object.assign({},legendBase,{data:bandNames.slice(4),left:195})
  ],
  series:drawOrder.map(i=>({
    type:"map",name:bandNames[i],map:"band"+i,silent:true,roam:false,selectedMode:false,showLegendSymbol:false,
    aspectScale:0.974,boundingCoords:[[-180,84],[180,-56]],left:18.4,top:79.6,width:1883,height:751.8,
    label:{show:false},emphasis:{disabled:true},
    itemStyle:{color:bandColors[i],areaColor:bandColors[i],borderColor:i===6?"#c8c8c8":"#b4b4b4",borderWidth:0.4},
    data:bandMembers[i].map(name=>({name}))
  }))
});
</script></body></html>
